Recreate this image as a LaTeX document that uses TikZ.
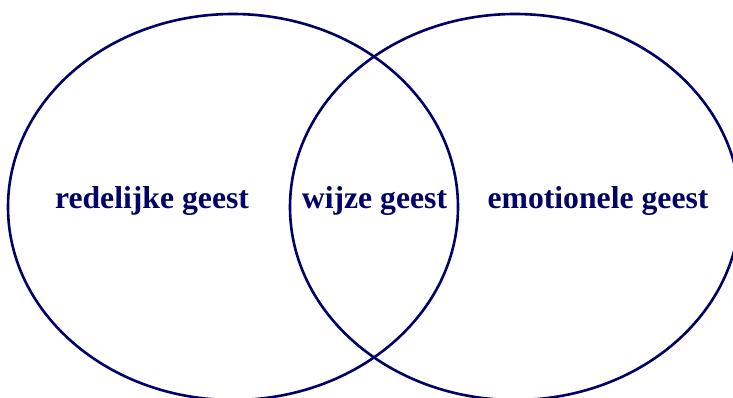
\documentclass[tikz,border=0pt]{standalone}
\usepackage{fontspec}
\setmainfont{Liberation Serif}
\usetikzlibrary{positioning,shapes.geometric}
\definecolor{geestblauw}{RGB}{0,0,102}
\tikzset{
    geestcirkel/.style={draw=geestblauw, ellipse, line width=2.6pt, inner sep=0pt, minimum width=450pt, minimum height=386pt},
    geestlabel/.style={anchor=base, text=geestblauw, font=\fontsize{31.7}{36}\selectfont\bfseries, inner sep=0pt}
}
\begin{document}
\begin{tikzpicture}[x=1pt, y=-1pt]
    \useasboundingbox (0,0) rectangle (733,398);
    \node[geestcirkel] (redelijk) at (233,207) {};
    \node[geestcirkel] (emotioneel) at (515,207) {};
    \node[geestlabel] (redelijktekst) at (152,208) {redelijke geest};
    \node[geestlabel] (wijstekst) at (374.5,208) {wijze geest};
    \node[geestlabel] (emotioneeltekst) at (598,208) {emotionele geest};
\end{tikzpicture}
\end{document}
